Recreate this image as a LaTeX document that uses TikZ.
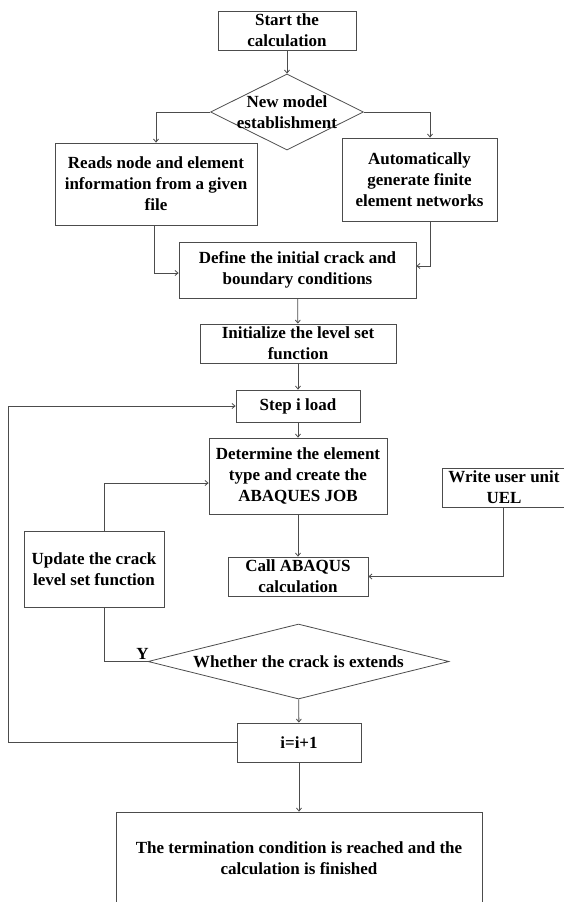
\documentclass[tikz,border=0pt]{standalone}
\usepackage{fontspec}
\setmainfont{Liberation Serif}
\usetikzlibrary{shapes.geometric,arrows.meta}

\begin{document}
\begin{tikzpicture}[x=1pt,y=-1pt,
        font=\fontsize{17}{21}\selectfont\bfseries,
        line width=0.8pt,
        >={Straight Barb[length=3pt,width=5pt]},
        box/.style={draw=black!70, rectangle, align=center, inner sep=0pt},
        decision/.style={draw=black!70, diamond, inner sep=0pt},
        flow/.style={->, draw=black!70}]
    \useasboundingbox (0,0) rectangle (564,902);

    \node[box, minimum width=138pt, minimum height=39pt] (start) at (287,30.5) {Start the\\calculation};
    \node[decision, minimum width=153pt, minimum height=76pt,
        label={[align=center]center:New model\\establishment}] (model) at (287,112) {};
    \node[box, minimum width=202pt, minimum height=82pt] (reads) at (156,184) {Reads node and element\\information from a given\\file};
    \node[box, minimum width=155pt, minimum height=83pt] (auto) at (419.5,179.5) {Automatically\\generate finite\\element networks};
    \node[box, minimum width=237pt, minimum height=56pt] (define) at (297.5,270) {Define the initial crack and\\boundary conditions};
    \node[box, minimum width=196pt, minimum height=39pt] (init) at (298,343.5) {Initialize the level set\\function};
    \node[box, minimum width=124pt, minimum height=32pt] (step) at (298,406) {Step i load};
    \node[box, minimum width=178pt, minimum height=76pt] (det) at (298,476) {Determine the element\\type and create the\\ABAQUES JOB};
    \node[box, minimum width=124pt, minimum height=39pt] (write) at (504,487.5) {Write user unit\\UEL};
    \node[box, minimum width=140pt, minimum height=76pt] (update) at (94,569) {Update the crack\\level set function};
    \node[box, minimum width=140pt, minimum height=39pt] (call) at (298,576.5) {Call ABAQUS\\calculation};
    \node[decision, minimum width=301pt, minimum height=75pt,
        label=center:Whether the crack is extends] (crack) at (298.5,661.5) {};
    \node[box, minimum width=124pt, minimum height=39pt] (inc) at (299,742.5) {i=i+1};
    \node[box, minimum width=366pt, minimum height=92pt] (term) at (299,858) {The termination condition is reached and the\\calculation is finished};

    \draw[flow] (start) -- (model);
    \draw[flow] (model.west) -| (reads.north);
    \draw[flow] (model.east) -| ([xshift=10.5pt]auto.north);
    \draw[flow] ([xshift=-2pt]reads.south) |- ([yshift=-3pt]define.west);
    \draw[flow] ([xshift=10.5pt]auto.south) |- ([yshift=4pt]define.east);
    \draw[flow] (define) -- (init);
    \draw[flow] (init) -- (step);
    \draw[flow] (step) -- (det);
    \draw[flow] (det) -- (call);
    \draw[flow] ([xshift=-1pt]write.south) |- (call.east);
    \draw[flow] ([xshift=10pt]update.north) |- ([yshift=-7pt]det.west);
    \draw[draw=black!70] ([xshift=10pt]update.south) |- (crack.west)
        node[above, xshift=-5pt, inner sep=2pt] (yes) {Y};
    \draw[flow] (crack) -- (inc);
    \draw[flow] (inc.west) -- ++(-228,0) |- (step.west);
    \draw[flow] (inc) -- (term);
\end{tikzpicture}
\end{document}
